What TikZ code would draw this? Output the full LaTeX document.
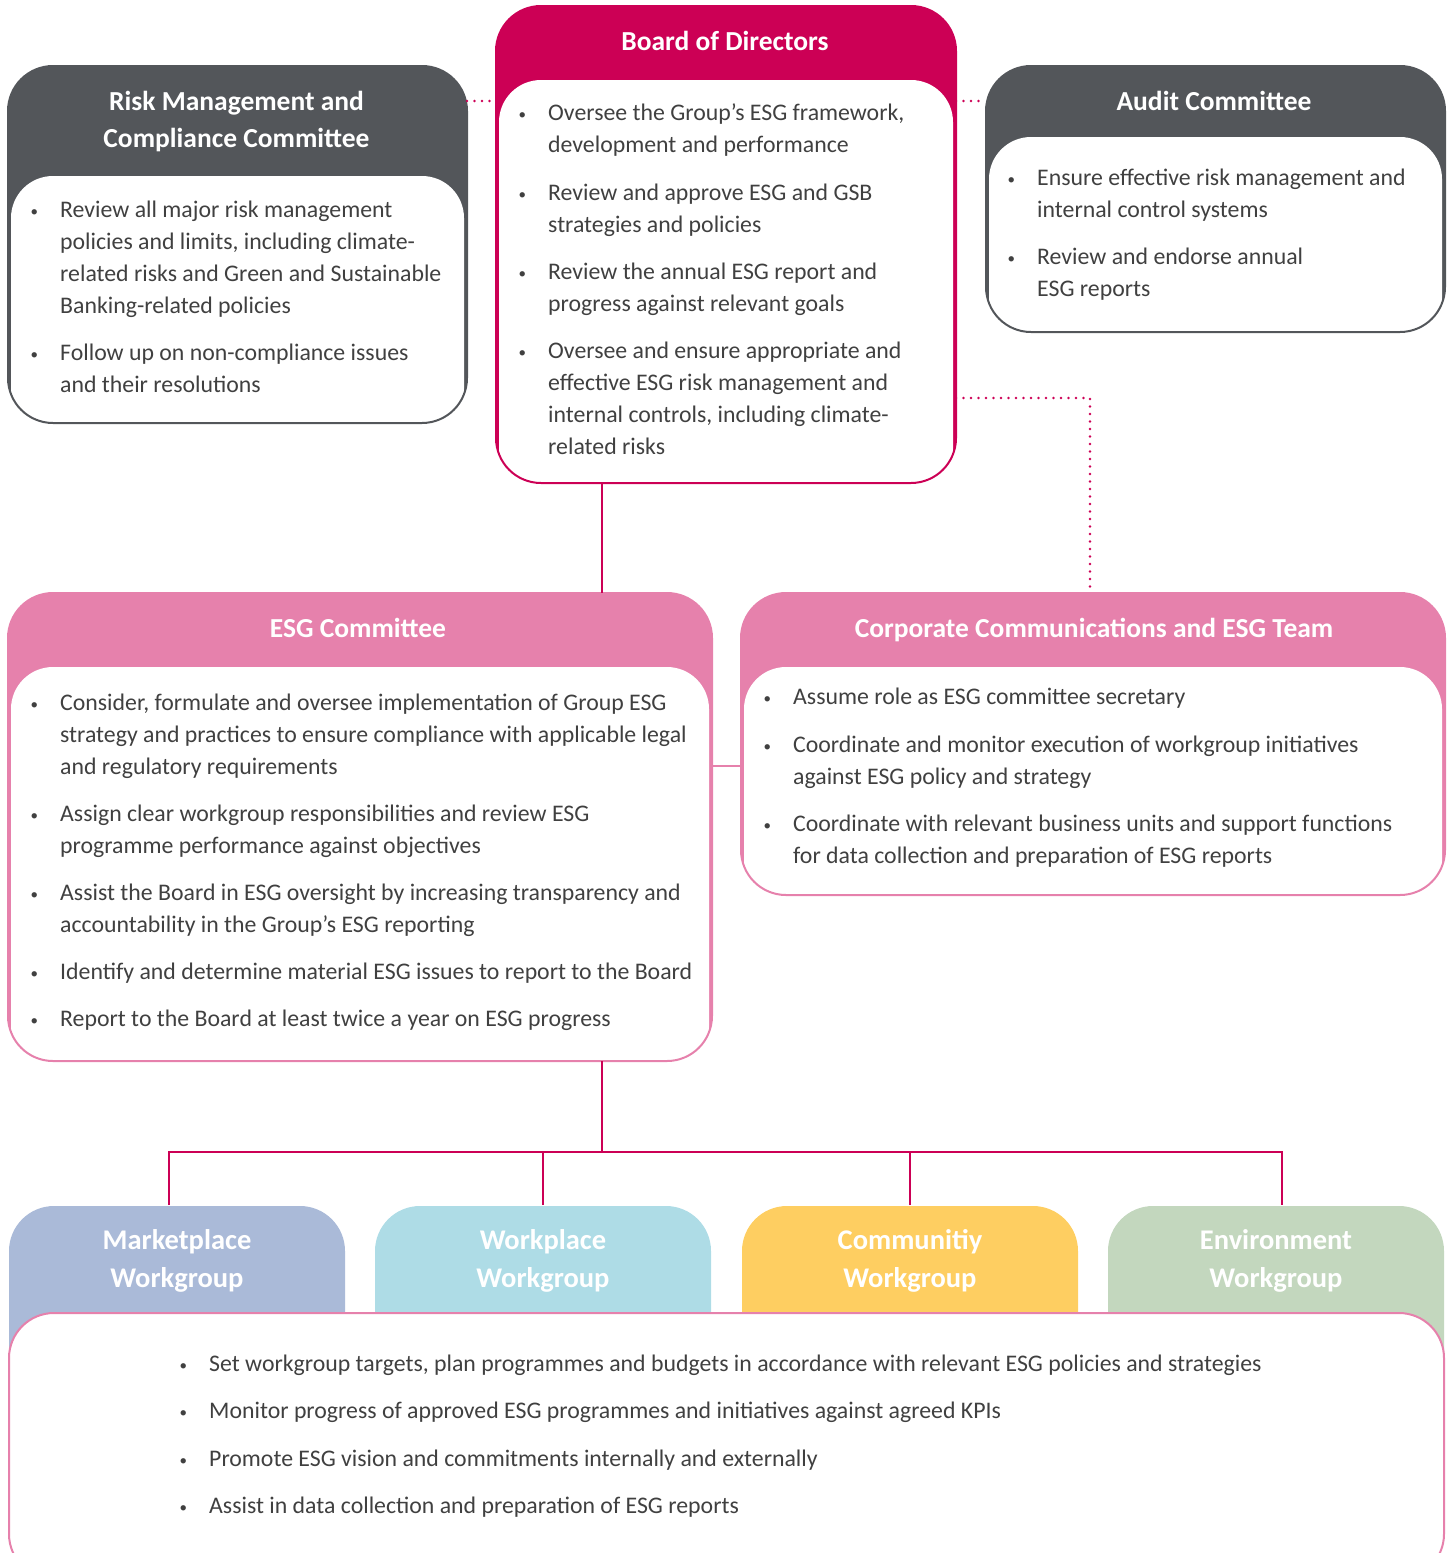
\documentclass[tikz,border=0pt]{standalone}
\usepackage{fontspec}
\setmainfont{Carlito}
\usetikzlibrary{positioning}
\definecolor{bodcrimson}{HTML}{CC0055}
\definecolor{cmtgray}{HTML}{53565A}
\definecolor{esgpink}{HTML}{E681AC}
\definecolor{mktblue}{HTML}{AABAD8}
\definecolor{wkpcyan}{HTML}{AEDCE6}
\definecolor{cmtyellow}{HTML}{FECE61}
\definecolor{envgreen}{HTML}{C3D7BE}
\definecolor{bodytext}{HTML}{404040}
\tikzstyle{orgbox} = [rectangle, rounded corners=45pt, line width=2pt, inner sep=0pt, anchor=north west]
\tikzstyle{boxtitle} = [text=white, font=\fontsize{27.5}{37}\selectfont\bfseries, align=center]
\tikzstyle{wgtitle} = [text=white, font=\fontsize{28.5}{38}\selectfont\bfseries, align=center]
\tikzstyle{itemtext} = [anchor=north west, yshift=22.4pt, inner sep=0pt, text=bodytext, font=\fontsize{23.8}{32}\selectfont, align=left]
\tikzstyle{link} = [line width=1.6pt, bodcrimson]
\tikzstyle{dotlink} = [line width=2.8pt, bodcrimson, line cap=round, dash pattern=on 0pt off 7.5pt]
\newcommand{\bul}{\strut\llap{\raisebox{1pt}{\fontsize{15}{15}\selectfont\textbullet}\hspace{22pt}}}
% box with coloured header and white body: name, x, y, width, height, header height, fill, border
\newcommand{\orgcard}[8]{%
  \node[orgbox, fill=#7, draw=#8, minimum width=#4pt, minimum height=#5pt] (#1) at (#2,#3) {};
  \begin{scope}
    \clip[rounded corners=45pt] (#1.north west) rectangle (#1.south east);
    \fill[white, rounded corners=42pt] ([xshift=3pt, yshift=-#6pt]#1.north west) rectangle ([xshift=-3pt, yshift=-60pt]#1.south east);
  \end{scope}
  \draw[line width=2pt, #8, rounded corners=45pt] (#1.north west) rectangle (#1.south east);
}

\begin{document}
\begin{tikzpicture}[x=1pt, y=-1pt]
\useasboundingbox (0,0) rectangle (1449,1553);
\clip (0,0) rectangle (1449,1553);

% committees
\orgcard{risk}{8}{66}{457}{355}{110}{cmtgray}{cmtgray}
\orgcard{board}{496}{6}{458}{475}{74}{bodcrimson}{bodcrimson}
\orgcard{audit}{986}{66}{457}{264}{71}{cmtgray}{cmtgray}
\orgcard{esg}{8}{593}{702}{466}{74}{esgpink}{esgpink}
\orgcard{corp}{741}{593}{702}{300}{74}{esgpink}{esgpink}

\node[boxtitle] (risk-t) at (236.5,121.5) {Risk Management and\\Compliance Committee};
\node[boxtitle] (board-t) at (725,41) {Board of Directors};
\node[boxtitle] (audit-t) at (1214,101) {Audit Committee};
\node[boxtitle] (esg-t) at (358,628) {ESG Committee};
\node[boxtitle] (corp-t) at (1094,630) {Corporate Communications and ESG Team};

\foreach \ty/\tx [count=\i] in {217/{Review all major risk management\\policies and limits, including climate-\\related risks and Green and Sustainable\\Banking-related policies},
    360/{Follow up on non-compliance issues\\and their resolutions}}
  \node[itemtext] (risk-\i) at (60,\ty) {\bul\tx};

\foreach \ty/\tx [count=\i] in {120/{Oversee the Group’s ESG framework,\\development and performance},
    200/{Review and approve ESG and GSB\\strategies and policies},
    279/{Review the annual ESG report and\\progress against relevant goals},
    358/{Oversee and ensure appropriate and\\effective ESG risk management and\\internal controls, including climate-\\related risks}}
  \node[itemtext] (board-\i) at (548,\ty) {\bul\tx};

\foreach \ty/\tx [count=\i] in {185/{Ensure effective risk management and\\internal control systems},
    264/{Review and endorse annual\\ESG reports}}
  \node[itemtext] (audit-\i) at (1037,\ty) {\bul\tx};

\foreach \ty/\tx [count=\i] in {710/{Consider, formulate and oversee implementation of Group ESG\\strategy and practices to ensure compliance with applicable legal\\and regulatory requirements},
    821/{Assign clear workgroup responsibilities and review ESG\\programme performance against objectives},
    900/{Assist the Board in ESG oversight by increasing transparency and\\accountability in the Group’s ESG reporting},
    979/{Identify and determine material ESG issues to report to the Board},
    1026/{Report to the Board at least twice a year on ESG progress}}
  \node[itemtext] (esg-\i) at (60,\ty) {\bul\tx};

\foreach \ty/\tx [count=\i] in {704/{Assume role as ESG committee secretary},
    752/{Coordinate and monitor execution of workgroup initiatives\\against ESG policy and strategy},
    831/{Coordinate with relevant business units and support functions\\for data collection and preparation of ESG reports}}
  \node[itemtext] (corp-\i) at (793,\ty) {\bul\tx};

% workgroups
\foreach \nm/\x/\col/\wg in {mkt/8/mktblue/Marketplace, wkp/374/wkpcyan/Workplace, cmty/741/cmtyellow/Communitiy, env/1107/envgreen/Environment} {
  \node[orgbox, fill=\col, minimum width=336pt, minimum height=220pt] (\nm) at (\x,1205) {};
  \node[wgtitle] (\nm-t) at ([yshift=-56pt]\nm.north) {\wg\\Workgroup};
}
\node[orgbox, fill=white, draw=esgpink, minimum width=1435pt, minimum height=266pt] (wgbody) at (8,1312) {};
\foreach \ty/\tx [count=\i] in {1371/{Set workgroup targets, plan programmes and budgets in accordance with relevant ESG policies and strategies},
    1418/{Monitor progress of approved ESG programmes and initiatives against agreed KPIs},
    1466/{Promote ESG vision and commitments internally and externally},
    1513/{Assist in data collection and preparation of ESG reports}}
  \node[itemtext] (wg-\i) at (209,\ty) {\bul\tx};

% connectors
\coordinate (bend) at (1090,398);
\coordinate (trunk) at (602,1152);
\coordinate (mid) at (725,766);
\draw[dotlink] (risk.east |- audit-t) -- (board.west |- audit-t);
\draw[dotlink] (board.east |- audit-t) -- (audit.west |- audit-t);
\draw[dotlink] (board.east |- bend) -- (bend) -- (corp.north -| bend);
\draw[link] (board.south -| trunk) -- (esg.north -| trunk);
\draw[link, esgpink] (esg.east |- mid) -- (corp.west |- mid);
\draw[link] (esg.south -| trunk) -- (trunk);
\draw[link] ([xshift=-8pt]mkt.north) -- ([xshift=-8pt]mkt.north |- trunk) -- ([xshift=6pt]env.north |- trunk) -- ([xshift=6pt]env.north);
\draw[link] (wkp.north) -- (wkp.north |- trunk);
\draw[link] (cmty.north) -- (cmty.north |- trunk);
\end{tikzpicture}
\end{document}
